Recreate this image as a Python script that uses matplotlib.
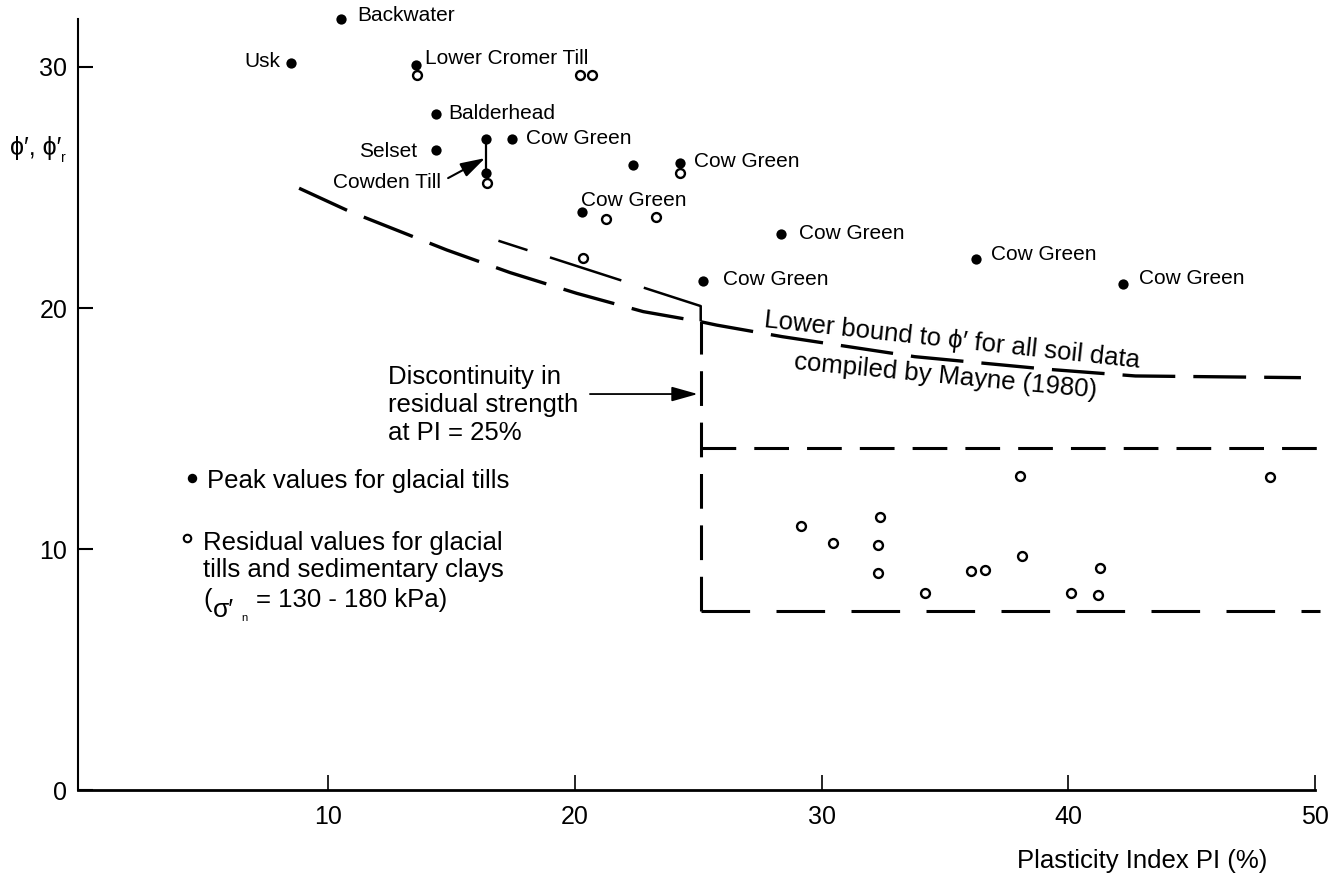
import matplotlib.pyplot as plt

plt.rcParams['font.family'] = ['Liberation Sans', 'DejaVu Sans']
plt.rcParams['lines.scale_dashes'] = False

# peak values for glacial tills (filled dots)
peak_pi = [10.51, 8.49, 13.55, 14.37, 14.37, 16.40, 16.40, 17.44, 22.37,
           24.26, 20.29, 28.34, 25.20, 36.26, 42.23]
peak_phi = [31.98, 30.15, 30.08, 28.05, 26.56, 27.00, 25.59, 27.00, 25.93,
            26.03, 23.98, 23.06, 21.11, 22.02, 20.98]
peak_names = ['Backwater', 'Usk', 'Lower Cromer Till', 'Balderhead', 'Selset',
              '', '', 'Cow Green', '', 'Cow Green', 'Cow Green', 'Cow Green',
              'Cow Green', 'Cow Green', 'Cow Green']

# residual values (open circles)
res_pi = [13.61, 20.21, 20.69, 16.45, 24.26, 21.25, 23.28, 20.32,
          29.17, 30.46, 32.38, 32.30, 32.30, 34.19, 36.04, 36.61,
          38.05, 38.14, 40.11, 41.22, 41.27, 48.18]
res_phi = [29.67, 29.67, 29.67, 25.18, 25.59, 23.71, 23.77, 22.09,
           10.97, 10.25, 11.33, 10.17, 9.00, 8.17, 9.10, 9.13,
           13.03, 9.71, 8.19, 8.08, 9.21, 13.00]

# lower bound to phi' (Mayne 1980)
mayne_pi = [8.82, 10.88, 14.80, 17.37, 20.07, 22.77, 25.10, 25.75, 28.41,
            33.78, 39.14, 42.72, 49.43]
mayne_phi = [24.97, 24.00, 22.41, 21.47, 20.61, 19.85, 19.43, 19.29, 18.81,
             17.98, 17.46, 17.18, 17.11]

# residual strength bounds
upper_pi = [25.1, 16.9]
upper_phi = [20.08, 22.79]
pi_disc = 25.1
box_top = 14.18
box_bottom = 7.44
box_top_end = 50.6
box_bottom_end = 50.2

# label offsets in points (layout only)
label_offsets = {0: (12.0, 2.4, 'left'), 1: (-7.5, 1.2, 'right'),
                 2: (7.0, 5.0, 'left'), 3: (9.0, 0.0, 'left'),
                 4: (-13.5, -1.2, 'right'), 7: (10.0, 0.7, 'left'),
                 9: (10.0, 0.7, 'left'), 10: (-0.5, 8.6, 'left'),
                 11: (13.5, 0.7, 'left'), 12: (14.0, 0.9, 'left'),
                 13: (11.0, 3.6, 'left'), 14: (11.2, 4.3, 'left')}

fig = plt.figure(figsize=(13.42, 8.76), dpi=100)
ax = fig.add_axes([0.05797, 0.09817, 0.92191, 0.88037])

# data points
ax.plot(peak_pi, peak_phi, 'o', color='black', ms=7.4, mew=0, clip_on=False, zorder=3)
ax.plot(res_pi, res_phi, 'o', mfc='white', mec='black', ms=6.4, mew=1.7,
        clip_on=False, zorder=3)

# Cowden Till connector
ax.plot([peak_pi[5], peak_pi[6]], [peak_phi[5], peak_phi[6]], color='black', lw=1.6)

for i, name in enumerate(peak_names):
    if name == '':
        continue
    dx, dy, ha = label_offsets[i]
    ax.annotate(name, (peak_pi[i], peak_phi[i]), xytext=(dx, dy),
                textcoords='offset points', ha=ha, va='center', fontsize=15)

ax.text(14.59, 25.19, 'Cowden Till', ha='right', va='center', fontsize=15)
ax.annotate('', xy=(16.36, 26.22), xytext=(14.86, 25.39),
            arrowprops=dict(arrowstyle='-|>,head_length=1.5,head_width=0.45',
                            color='black', lw=1.5, shrinkA=0, shrinkB=0,
                            mutation_scale=10))

# bound lines
ax.plot(mayne_pi, mayne_phi, color='black', lw=2.4, dashes=(38, 13),
        solid_capstyle='butt', clip_on=False)
ax.plot([pi_disc] + upper_pi, [19.45] + upper_phi, color='black', lw=1.8,
        dashes=(54, 17), clip_on=False)
ax.plot([pi_disc, pi_disc], [box_bottom, 19.45], color='black', lw=2.2,
        dashes=(25, 12), clip_on=False)
ax.plot([pi_disc, box_top_end], [box_top, box_top], color='black', lw=2.2,
        dashes=(25, 13), clip_on=False)
ax.plot([pi_disc, box_bottom_end], [box_bottom, box_bottom], color='black', lw=2.2,
        dashes=(35, 19), clip_on=False)

# annotations
ax.text(12.42, 15.98, 'Discontinuity in\nresidual strength\nat PI = 25%',
        ha='left', va='center', fontsize=18.5, linespacing=1.2)
ax.annotate('', xy=(24.98, 16.43), xytext=(20.61, 16.43),
            arrowprops=dict(arrowstyle='-|>,head_length=1.6,head_width=0.45',
                            color='black', lw=1.3, shrinkA=0, shrinkB=0,
                            mutation_scale=10))

ax.text(35.29, 18.67, 'Lower bound to ϕ′ for all soil data', ha='center',
        va='center', fontsize=18.5, rotation=-6.2, rotation_mode='anchor')
ax.text(35.04, 17.18, 'compiled by Mayne (1980)', ha='center', va='center',
        fontsize=18.5, rotation=-5.4, rotation_mode='anchor')

# legend
ax.plot([4.48], [12.93], 'o', color='black', ms=6.8, mew=0, clip_on=False)
ax.text(5.09, 12.82, 'Peak values for glacial tills', ha='left', va='center',
        fontsize=18.5)
ax.plot([4.28], [10.46], 'o', mfc='white', mec='black', ms=5.4, mew=1.5, clip_on=False)
ax.text(4.93, 9.69, 'Residual values for glacial\ntills and sedimentary clays',
        ha='left', va='center', fontsize=18.5, linespacing=1.15)
ax.text(4.93, 7.88, '(', ha='left', va='center', fontsize=18.5)
ax.text(5.31, 7.45, 'σ′', ha='left', va='center', fontsize=19)
ax.text(6.47, 7.12, 'n', ha='left', va='center', fontsize=8)
ax.text(7.07, 7.88, '= 130 - 180 kPa)', ha='left', va='center', fontsize=18.5)

# axes
ax.set_xlim(-0.15, 50)
ax.set_ylim(0, 32)
ax.spines['top'].set_visible(False)
ax.spines['right'].set_visible(False)
ax.spines['left'].set_linewidth(1.5)
ax.spines['bottom'].set_linewidth(2.0)
ax.set_xticks([10, 20, 30, 40, 50])
ax.set_yticks([0, 10, 20, 30])
ax.tick_params(axis='x', direction='in', length=10.8, width=1.2, pad=10.5,
               labelsize=18)
ax.tick_params(axis='y', direction='in', length=11, width=1.5, pad=7.5,
               labelsize=18)

fig.text(0.9441, 0.00913, 'Plasticity Index PI (%)', ha='right', va='baseline',
         fontsize=18.5)
fig.text(0.00745, 0.831, 'ϕ′, ϕ′', ha='left', va='center', fontsize=18)
fig.text(0.0455, 0.8196, 'r', ha='left', va='center', fontsize=10)

fig.savefig('out.png', dpi=100)
